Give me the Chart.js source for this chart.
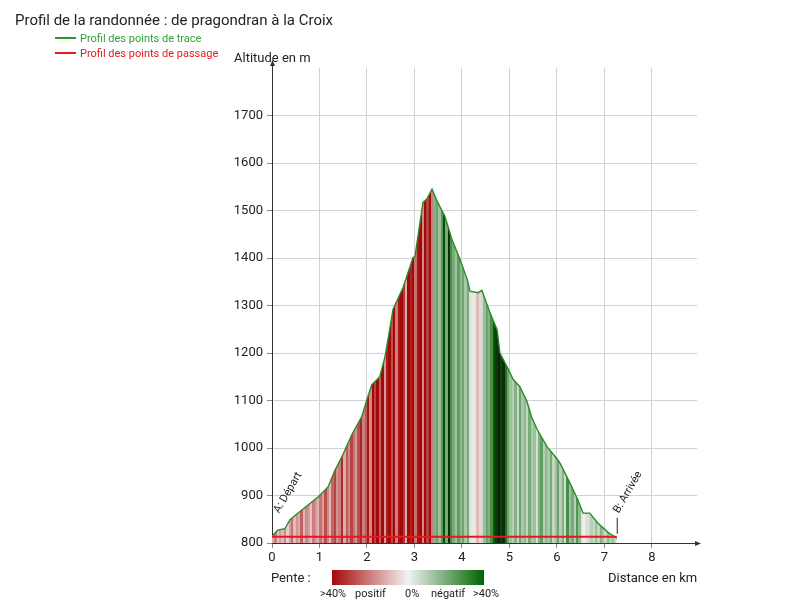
<!DOCTYPE html>
<html><head><meta charset="utf-8">
<script src="https://cdn.jsdelivr.net/npm/chart.js@4.4.0/dist/chart.umd.min.js"></script>
<style>html,body{margin:0;padding:0;background:#fff;}#wrap{width:800px;height:611px;position:relative;}</style>
</head><body><div id="wrap"><canvas id="c" width="800" height="611"></canvas></div>
<script>
// Profile track points (km, m)
const distances = [0.00,0.12,0.27,0.38,0.55,0.76,0.97,1.18,1.33,1.47,1.68,1.89,2.00,2.10,2.27,2.38,2.55,2.76,2.97,3.01,3.18,3.26,3.37,3.49,3.64,3.79,3.96,4.11,4.17,4.34,4.42,4.59,4.74,4.80,4.95,5.08,5.22,5.37,5.47,5.58,5.79,5.98,6.06,6.27,6.44,6.55,6.69,6.86,7.07,7.26];
const altitudes = [814,827,830,849,863,880,897,918,954,981,1028,1066,1102,1133,1150,1192,1292,1338,1401,1403,1517,1524,1545,1517,1488,1439,1397,1355,1330,1327,1332,1285,1249,1200,1171,1144,1129,1098,1064,1040,1003,980,969,927,891,863,863,842,823,810];
// Waypoints profile
const passageDistances = [0, 7.26];
const passageAltitudes = [813, 813];
const slopeSegmentKm = 0.05;
const slopes = [
 12,20,8,15,10,18,6,14,22,9,16,12,25,10,18,14,8,20,15,11,
 22,14,28,18,10,24,30,16,20,34,12,26,18,30,22,15,28,35,20,26,
 38,18,42,30,45,25,40,15,36,44,28,40,20,38,46,32,12,40,35,44,22,38,42,18,40,30,45,20,
 -18,-22,-14,-25,-48,-20,-62,-28,-20,-14,-24,-16,-22,-12,-20,-4,2,-2,10,5,
 -6,-15,-22,-18,-28,-42,-58,-68,-52,-62,-35,-22,
 -14,-10,-18,-7,-22,-12,-16,-8,-20,-11,-14,-5,-18,-24,-10,-16,-12,-20,-8,-14,-22,-10,-18,-6,-28,-14,-20,-10,-26,-16,
 -3,0,4,-6,-10,-7,-14,-8,-18,-12,-7,-16,-10,-14,-7
];
const xTicks = [0,1,2,3,4,5,6,7,8];
const yTicks = [800,900,1000,1100,1200,1300,1400,1500,1600,1700];

const FONT = 'Roboto, "Noto Sans", sans-serif';
function lerp(a,b,t){return Math.round(a+(b-a)*t);}
function slopeColor(p){
  const W=[242,242,242], R=[165,8,8], G=[0,100,0], K=[20,24,20];
  let c;
  if(p>=0){const t=Math.min(p/40,1);c=[lerp(W[0],R[0],t),lerp(W[1],R[1],t),lerp(W[2],R[2],t)];}
  else{const a=-p;
    if(a<=40){const t=a/40;c=[lerp(W[0],G[0],t),lerp(W[1],G[1],t),lerp(W[2],G[2],t)];}
    else{const t=Math.min((a-40)/30,1);c=[lerp(G[0],K[0],t),lerp(G[1],K[1],t),lerp(G[2],K[2],t)];}
  }
  return 'rgb('+c.join(',')+')';
}
function profileFill(context){
  const chart=context.chart;const {ctx,chartArea,scales}=chart;
  if(!chartArea||!scales.x) return 'rgba(200,200,200,0.5)';
  const n=slopes.length;
  const x0=scales.x.getPixelForValue(0), x1=scales.x.getPixelForValue(n*slopeSegmentKm);
  const g=ctx.createLinearGradient(x0,0,x1,0);
  slopes.forEach((p,i)=>{const c=slopeColor(p);g.addColorStop(i/n,c);g.addColorStop((i+1)/n,c);});
  return g;
}

const decor={id:'decor',afterDraw(chart){
  const ctx=chart.ctx;const a=chart.chartArea;const xs=chart.scales.x, ys=chart.scales.y;
  ctx.save();
  ctx.fillStyle='#222';ctx.font='15px '+FONT;ctx.textBaseline='alphabetic';ctx.textAlign='left';
  ctx.fillText('Profil de la randonnée : de pragondran à la Croix',15,25);
  ctx.lineWidth=2;
  ctx.strokeStyle='#2a9a2a';ctx.beginPath();ctx.moveTo(55,38);ctx.lineTo(76,38);ctx.stroke();
  ctx.strokeStyle='#e3191e';ctx.beginPath();ctx.moveTo(55,53);ctx.lineTo(76,53);ctx.stroke();
  ctx.font='11px '+FONT;
  ctx.fillStyle='#35a035';ctx.fillText('Profil des points de trace',80,42);
  ctx.fillStyle='#e3191e';ctx.fillText('Profil des points de passage',80,57);
  ctx.fillStyle='#222';ctx.font='13px '+FONT;
  ctx.fillText('Altitude en m',234,62);
  ctx.fillText('Distance en km',608,582);
  ctx.fillText('Pente :',271,582);
  ctx.strokeStyle='#333';ctx.fillStyle='#333';ctx.lineWidth=1;
  ctx.beginPath();ctx.moveTo(a.left+0.5,a.top);ctx.lineTo(a.left+0.5,a.top-6);ctx.stroke();
  ctx.beginPath();ctx.moveTo(a.left+0.5,a.top-8);ctx.lineTo(a.left-2,a.top-2);ctx.lineTo(a.left+3,a.top-2);ctx.closePath();ctx.fill();
  ctx.beginPath();ctx.moveTo(a.right,a.bottom+0.5);ctx.lineTo(a.right+2,a.bottom+0.5);ctx.stroke();
  ctx.beginPath();ctx.moveTo(a.right+4,a.bottom+0.5);ctx.lineTo(a.right-2,a.bottom-2);ctx.lineTo(a.right-2,a.bottom+3);ctx.closePath();ctx.fill();
  const lg=ctx.createLinearGradient(332,0,484,0);
  lg.addColorStop(0,slopeColor(40));lg.addColorStop(0.25,slopeColor(20));lg.addColorStop(0.5,slopeColor(0));
  lg.addColorStop(0.75,slopeColor(-20));lg.addColorStop(1,slopeColor(-40));
  ctx.fillStyle=lg;ctx.fillRect(332,570,152,15);
  ctx.fillStyle='#222';ctx.font='11px '+FONT;
  ctx.fillText('>40%',320,597);ctx.fillText('positif',355,597);ctx.fillText('0%',405,597);
  ctx.fillText('négatif',431,597);ctx.fillText('>40%',473,597);
  const sx=xs.getPixelForValue(passageDistances[0]), ex=xs.getPixelForValue(passageDistances[passageDistances.length-1]);
  const sy=ys.getPixelForValue(passageAltitudes[0]);
  ctx.font='11px '+FONT;ctx.fillStyle='#222';
  ctx.save();ctx.translate(sx+7,sy-23);ctx.rotate(-60*Math.PI/180);ctx.fillText('A: Départ',0,0);ctx.restore();
  ctx.save();ctx.translate(ex+2,sy-23);ctx.rotate(-60*Math.PI/180);ctx.fillText('B: Arrivée',0,0);ctx.restore();
  ctx.strokeStyle='#222';ctx.lineWidth=1;ctx.beginPath();ctx.moveTo(ex+0.5,sy-19);ctx.lineTo(ex+0.5,sy-3);ctx.stroke();
  ctx.restore();
}};

new Chart(document.getElementById('c'),{
  type:'line',
  data:{datasets:[
    {label:'Profil des points de passage',data:passageDistances.map((d,i)=>({x:d,y:passageAltitudes[i]})),
     borderColor:'#e3191e',borderWidth:2,pointRadius:0,fill:false,order:0},
    {label:'Profil des points de trace',data:distances.map((d,i)=>({x:d,y:altitudes[i]})),
     borderColor:'#2a8a2a',borderWidth:1.4,pointRadius:0,tension:0,fill:'start',backgroundColor:profileFill,order:1}
  ]},
  plugins:[decor],
  options:{
    responsive:false,animation:false,devicePixelRatio:1,
    layout:{padding:{left:0,top:68,right:103,bottom:0}},
    plugins:{legend:{display:false},tooltip:{enabled:false},title:{display:false}},
    scales:{
      x:{type:'linear',min:0,max:8.95,
        afterBuildTicks:s=>{s.ticks=xTicks.map(v=>({value:v}));},
        afterFit:s=>{s.height=68;},
        grid:{color:'#d2d2d2',tickLength:5,tickColor:'#888'},
        border:{color:'#333',width:1},
        ticks:{font:{family:FONT,size:13},color:'#222',padding:2,maxRotation:0,autoSkip:false,callback:v=>String(v)}},
      y:{type:'linear',min:800,max:1800,
        afterBuildTicks:s=>{s.ticks=yTicks.map(v=>({value:v}));},
        afterFit:s=>{s.width=272;},
        grid:{color:'#d2d2d2',tickLength:5,tickColor:'#888'},
        border:{color:'#333',width:1},
        ticks:{font:{family:FONT,size:13},color:'#222',padding:4,autoSkip:false,callback:v=>String(v)}}
    }
  }
});
</script></body></html>
